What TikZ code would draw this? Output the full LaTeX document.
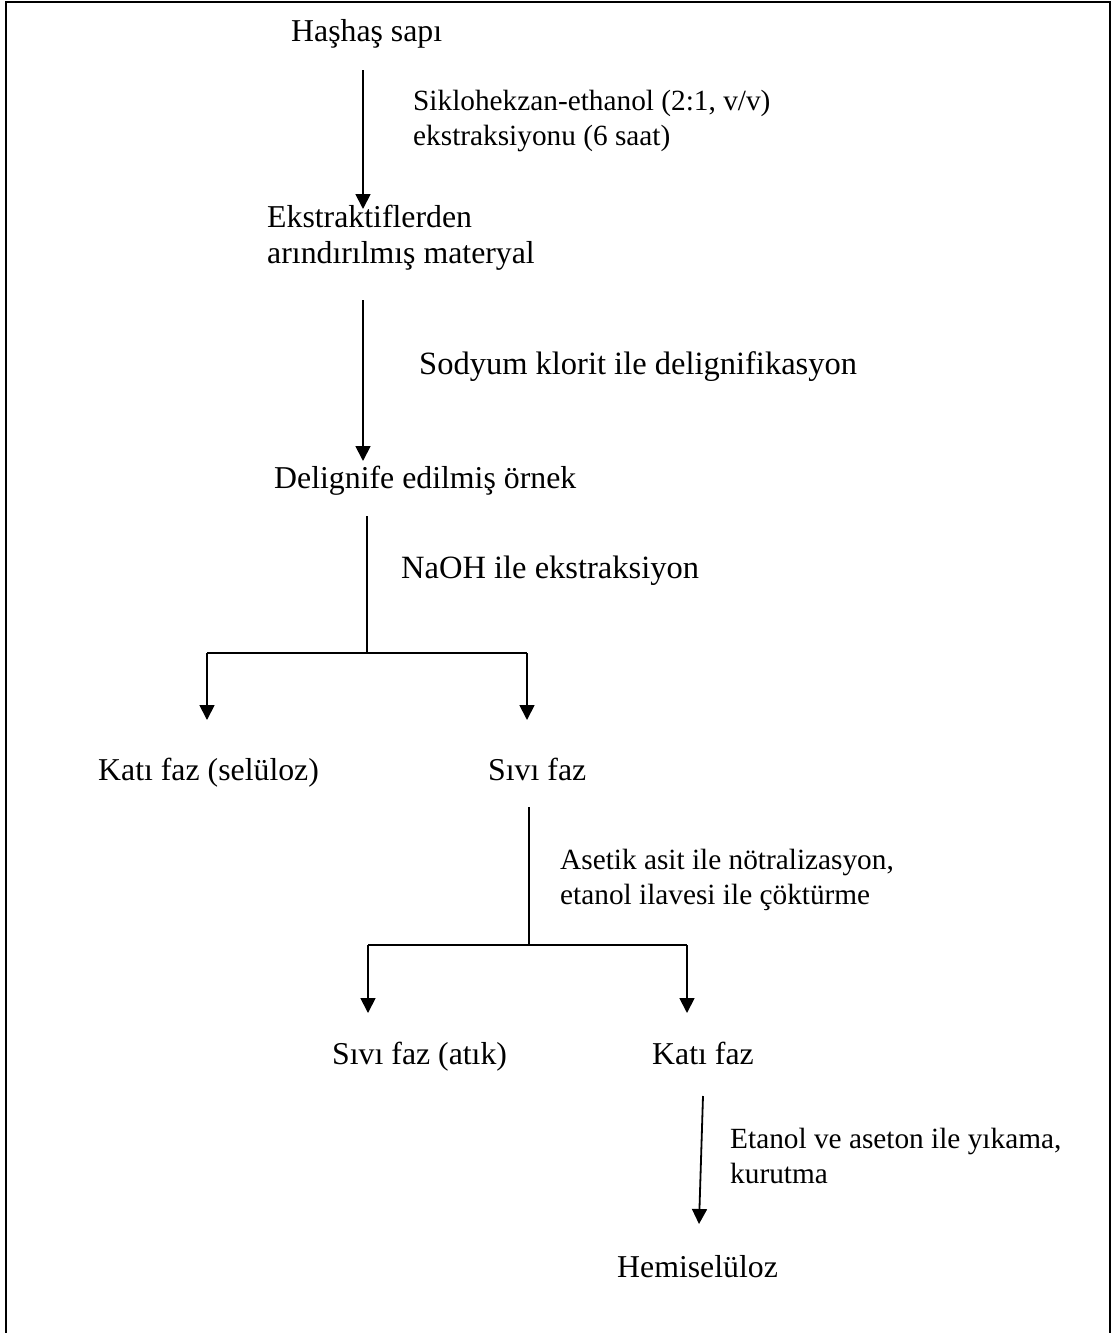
\documentclass[tikz,border=0pt]{standalone}
\usepackage{fontspec}
\setmainfont{Liberation Serif}
\usetikzlibrary{arrows.meta}
\begin{document}
\begin{tikzpicture}[x=1pt,y=-1pt,
  nodetext/.style={inner sep=0pt, anchor=base west, align=left, font=\fontsize{31.8}{36}\selectfont},
  smalllabel/.style={inner sep=0pt, anchor=base west, align=left, font=\fontsize{29.3}{34.5}\selectfont},
  biglabel/.style={inner sep=0pt, anchor=base west, align=left, font=\fontsize{32.5}{37}\selectfont},
  conn/.style={line width=1.8pt},
  arr/.style={line width=1.8pt, -{Triangle[width=15pt,length=15pt]}},
  frame/.style={line width=2.6pt}]
\useasboundingbox (0,0) rectangle (1115,1333);
\draw[frame] (6,1340) -- (6,2) -- (1110,2) -- (1110,1340);

% nodes (base = baseline of the last line)
\node[nodetext] (n1) at (291,41) {Haşhaş sapı};
\node[smalllabel] (l1) at (413,145) {Siklohekzan-ethanol (2:1, v/v)\\ekstraksiyonu (6 saat)};
\node[nodetext] (n2) at (267,263) {Ekstraktiflerden\\arındırılmış materyal};
\node[biglabel] (l2) at (419,374) {Sodyum klorit ile delignifikasyon};
\node[nodetext] (n3) at (274,488) {Delignife edilmiş örnek};
\node[biglabel] (l3) at (401,578) {NaOH ile ekstraksiyon};
\node[nodetext] (n4) at (98,780) {Katı faz (selüloz)};
\node[nodetext] (n5) at (488,780) {Sıvı faz};
\node[smalllabel] (l4) at (560,904) {Asetik asit ile nötralizasyon,\\etanol ilavesi ile çöktürme};
\node[nodetext] (n6) at (332,1064) {Sıvı faz (atık)};
\node[nodetext] (n7) at (652,1064) {Katı faz};
\node[smalllabel] (l5) at (730,1183) {Etanol ve aseton ile yıkama,\\kurutma};
\node[nodetext] (n8) at (617,1277) {Hemiselüloz};

% connector end points
\coordinate (a1s) at (363,70);
\coordinate (a1e) at (363,209);
\coordinate (a2s) at (363,300);
\coordinate (a2e) at (363,461);
\coordinate (b1s) at (367,516);
\coordinate (b1m) at (367,653);
\coordinate (b1l) at (207,653);
\coordinate (b1r) at (527,653);
\coordinate (b1le) at (207,720);
\coordinate (b1re) at (527,720);
\coordinate (b2s) at (529,807);
\coordinate (b2m) at (529,945);
\coordinate (b2l) at (368,945);
\coordinate (b2r) at (687,945);
\coordinate (b2le) at (368,1013);
\coordinate (b2re) at (687,1013);
\coordinate (a5s) at (703,1096);
\coordinate (a5e) at (699,1224);

% connectors
\draw[arr] (a1s) -- (a1e);
\draw[arr] (a2s) -- (a2e);
\draw[conn] (b1s) -- (b1m);
\draw[conn] (b1l) -- (b1r);
\draw[arr] (b1l) -- (b1le);
\draw[arr] (b1r) -- (b1re);
\draw[conn] (b2s) -- (b2m);
\draw[conn] (b2l) -- (b2r);
\draw[arr] (b2l) -- (b2le);
\draw[arr] (b2r) -- (b2re);
\draw[arr] (a5s) -- (a5e);
\end{tikzpicture}
\end{document}
